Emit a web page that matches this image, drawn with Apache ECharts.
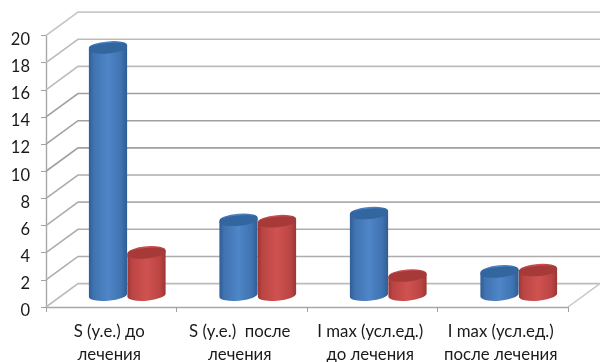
<!DOCTYPE html>
<html><head><meta charset="utf-8">
<script src="https://cdn.jsdelivr.net/npm/echarts@6/dist/echarts.min.js"></script>
<style>html,body{margin:0;padding:0;background:#fff}#c{width:600px;height:362px}</style>
</head><body><div id="c"></div>
<script>
const categories = ['S (у.е.) до\nлечения','S (у.е.)  после\nлечения','I max (усл.ед.)\nдо лечения','I max (усл.ед.)\nпосле лечения'];
const seriesBlue = [18.2,5.5,6.0,1.7];
const seriesRed = [3.1,5.4,1.4,1.8];
const yTicks = [0,2,4,6,8,10,12,14,16,18,20];

const DX = 32, DY = -23.4, BAR_W = 38.5, RY = 5.2, TILT = -5;
const chart = echarts.init(document.getElementById('c'), null, {renderer:'canvas'});

function wallItem(params, api){
  const v = api.value(0);
  const cs = params.coordSys;
  const p = api.coord([0, v]);
  const y = p[1];
  const x0 = cs.x, x1 = cs.x + cs.width;
  const light = v >= 16 || v <= 0;
  const color = v === 20 ? '#c8c8c8' : light ? '#bcbcbc' : v >= 10 ? '#a0a0a0' : '#adadad';
  const st = {stroke:color, lineWidth:1.6, fill:null};
  const kids = [
    {type:'polyline', shape:{points:[[x0,y],[x0+DX,y+DY],[x1+DX,y+DY]]}, style:st}
  ];
  if (v === 0) kids.push({type:'line', shape:{x1:x1,y1:y,x2:x1+DX,y2:y+DY}, style:{stroke:'#c4c4c4',lineWidth:1.4}});
  return {type:'group', children:kids};
}

function cylinder(side, edge, mid, edge2, top){
  return function(params, api){
    const i = api.value(0), v = api.value(1);
    const c0 = api.coord([i, 0]), c1 = api.coord([i, v]);
    const cx = c0[0] + DX/2 + side*BAR_W/2;
    const yb = c0[1] + DY/2 - 1.5, yt = c1[1] + DY/2;
    const rx = BAR_W/2, a = TILT*Math.PI/180;
    const ox = rx*Math.cos(a), oy = rx*Math.sin(a);
    const d = 'M'+(cx-ox)+' '+(yt-oy)+' L'+(cx-ox)+' '+(yb-oy)+
      ' A'+rx+' '+RY+' '+TILT+' 0 0 '+(cx+ox)+' '+(yb+oy)+
      ' L'+(cx+ox)+' '+(yt+oy)+
      ' A'+rx+' '+RY+' '+TILT+' 0 0 '+(cx-ox)+' '+(yt-oy)+' Z';
    return {type:'group', children:[
      {type:'path', shape:{pathData:d, layout:'cover', x:cx-ox, y:yt-RY-Math.abs(oy), width:2*ox, height:(yb+RY+Math.abs(oy))-(yt-RY-Math.abs(oy))},
       style:{fill:new echarts.graphic.LinearGradient(0,0,1,0,[
         {offset:0,color:edge},{offset:.12,color:edge2},{offset:.5,color:mid},{offset:.85,color:edge2},{offset:1,color:edge}])}},
      {type:'ellipse', shape:{cx:0,cy:0,rx:rx,ry:RY}, x:cx, y:yt, rotation:-a, originX:0, originY:0, style:{fill:top}}
    ]};
  };
}

chart.setOption({
  animation:false,
  backgroundColor:'#fff',
  grid:{left:46,right:32,top:35.5,height:271.5,outerBoundsMode:'none'},
  xAxis:{type:'category',data:categories,
    axisLine:{show:true,lineStyle:{color:'#a8a8a8',width:1.4}},
    axisTick:{show:true,length:5,lineStyle:{color:'#a0a0a0'}},
    axisLabel:{interval:0,color:'#1a1a1a',fontFamily:'Lato, "Open Sans", sans-serif',fontSize:16.8,lineHeight:23,margin:13,padding:[0,4,0,0]}},
  yAxis:{type:'value',min:0,max:20,interval:2,
    axisLine:{show:true,lineStyle:{color:'#a8a8a8',width:1.4}},
    axisTick:{show:true,length:5,lineStyle:{color:'#a0a0a0'}},
    splitLine:{show:false},
    axisLabel:{color:'#1a1a1a',fontFamily:'Lato, "Open Sans", sans-serif',fontSize:16.5,margin:16,verticalAlign:'top',lineHeight:8}},
  series:[
    {type:'custom',coordinateSystem:'cartesian2d',clip:false,silent:true,z:1,encode:{y:0},data:yTicks.map(v=>[v]),renderItem:wallItem},
    {type:'custom',coordinateSystem:'cartesian2d',clip:false,silent:true,z:2,encode:{x:0,y:1},data:seriesBlue.map((v,i)=>[i,v]),
      renderItem:cylinder(-1,'#2f5c93','#4f86c8','#3f72b0','#33659f')},
    {type:'custom',coordinateSystem:'cartesian2d',clip:false,silent:true,z:3,encode:{x:0,y:1},data:seriesRed.map((v,i)=>[i,v]),
      renderItem:cylinder(1,'#9c3634','#cf5250','#bb4543','#a53a38')}
  ]
});
</script></body></html>
